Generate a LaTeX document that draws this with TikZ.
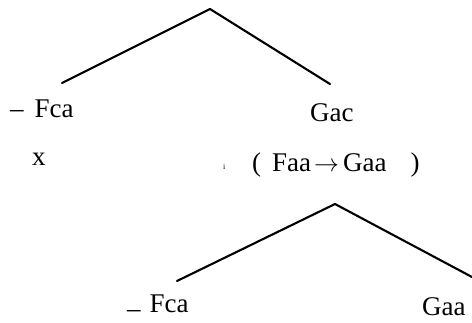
\documentclass[tikz,border=0pt]{standalone}
\usepackage{fontspec}
\setmainfont{Liberation Serif}
\tikzset{
  lbl/.style={inner sep=0pt, anchor=base west, font=\fontsize{27}{32}\selectfont},
  branch/.style={line width=2.1pt, line cap=round, line join=round}
}
\begin{document}
\begin{tikzpicture}[x=1pt,y=-1pt]
\useasboundingbox (0,0) rectangle (472,323);
% first tree
\coordinate (apexA) at (210,9);
\coordinate (leftA) at (62,83);
\coordinate (rightA) at (330,84);
\draw[branch] (leftA) -- (apexA) -- (rightA);
\node[lbl] (fcaA) at (10,118) {–\hspace{11pt}Fca};
\node[lbl] (gac) at (310,122) {Gac};
\node[lbl] (xx) at (32,166) {x};
\node[inner sep=0pt, anchor=base west, font=\fontsize{8}{9}\selectfont] (speck) at (223,170) {i};
\node[lbl] (faa) at (252,172) {(\hspace{11pt}Faa\hspace{3pt}$\rightarrow$\hspace{4pt}Gaa\hspace{24pt})};
% second tree
\coordinate (apexB) at (335,204);
\coordinate (leftB) at (177,281);
\coordinate (rightB) at (472,277);
\draw[branch] (leftB) -- (apexB) -- (rightB);
\node[lbl] (fcaB) at (127,313) {\raisebox{-5pt}{–}\hspace{9pt}Fca};
\node[lbl] (gaa) at (422,316) {Gaa};
\end{tikzpicture}
\end{document}
